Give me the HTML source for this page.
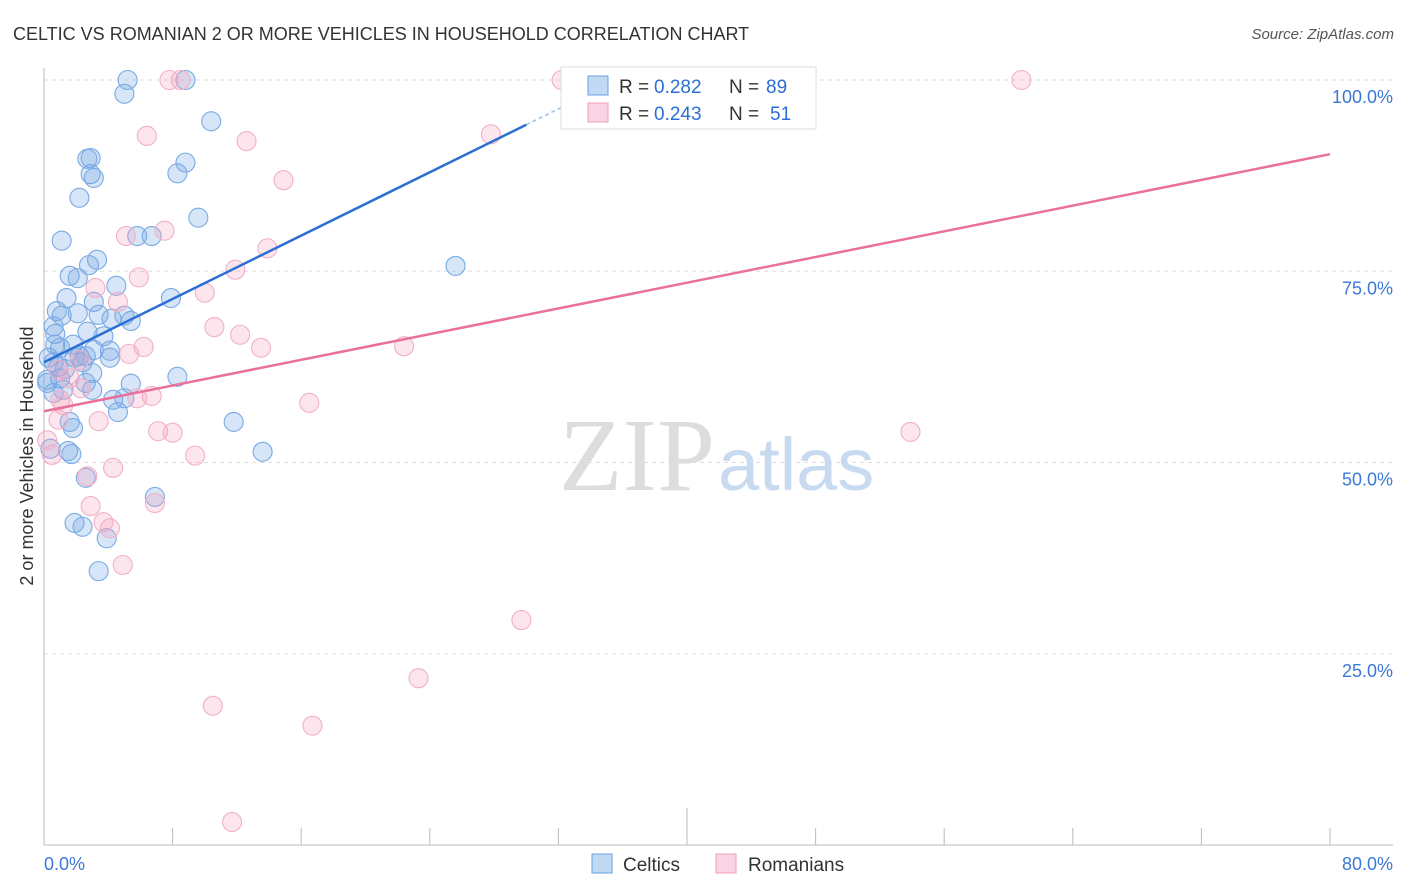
<!DOCTYPE html>
<html><head><meta charset="utf-8"><style>
body{margin:0;background:#fff;font-family:"Liberation Sans",sans-serif}
svg{display:block}
</style></head><body>
<svg width="1406" height="892" id="chart">
<text x="13" y="40" font-size="18" fill="#333">CELTIC VS ROMANIAN 2 OR MORE VEHICLES IN HOUSEHOLD CORRELATION CHART</text>
<text x="1394" y="39" font-size="15" fill="#555" font-style="italic" text-anchor="end">Source: ZipAtlas.com</text>
<text transform="translate(33,456) rotate(-90)" font-size="18" fill="#333" text-anchor="middle">2 or more Vehicles in Household</text>
<g id="grid"></g>
<text x="715" y="490" font-size="104" font-family="Liberation Serif,serif" fill="#ddd" text-anchor="end">ZIP</text>
<text x="718" y="490" font-size="74" fill="#c8daf0">atlas</text>
<g id="pts"></g>
<g id="lines"></g>
<g>
<rect x="561" y="67" width="255" height="62" fill="#fff" stroke="#ddd"/>
<rect x="588" y="76" width="20" height="19" fill="rgba(120,170,230,0.45)" stroke="#6aa0e0"/>
<rect x="588" y="103" width="20" height="19" fill="rgba(245,160,190,0.45)" stroke="#f0a0b8"/>
<text x="619" y="93" font-size="19" fill="#333">R =</text>
<text x="654" y="93" font-size="19" fill="#2b6fd6">0.282</text>
<text x="729" y="93" font-size="19" fill="#333">N =</text>
<text x="766" y="93" font-size="19" fill="#2b6fd6">89</text>
<text x="619" y="120" font-size="19" fill="#333">R =</text>
<text x="654" y="120" font-size="19" fill="#2b6fd6">0.243</text>
<text x="729" y="120" font-size="19" fill="#333">N =</text>
<text x="770" y="120" font-size="19" fill="#2b6fd6">51</text>
</g>
<g>
<rect x="592" y="854" width="20" height="19" fill="rgba(120,170,230,0.45)" stroke="#6aa0e0"/>
<text x="623" y="871" font-size="19" fill="#333">Celtics</text>
<rect x="716" y="854" width="20" height="19" fill="rgba(245,160,190,0.45)" stroke="#f0a0b8"/>
<text x="748" y="871" font-size="19" fill="#333">Romanians</text>
</g>
</svg>
<script>
const blueX=[5.2,8.8,5.0,10.4,2.7,2.9,8.8,8.3,2.9,3.1,2.2,9.6,1.1,5.8,6.7,2.8,3.3,25.6,1.6,2.1,4.5,7.9,1.4,3.1,0.8,1.1,2.1,3.4,4.2,5.0,5.4,0.6,0.7,2.7,3.7,0.7,1.8,1.0,3.1,2.6,4.1,2.2,4.1,0.3,0.6,1.3,3.0,8.3,0.2,1.0,5.4,2.6,3.0,0.6,4.3,5.0,4.6,11.8,1.6,1.8,1.5,1.7,13.6,0.4,2.6,6.9,1.9,2.4,3.9,3.4,1.9,1.2,0.2,0.9,2.4];
const blueY=[100,100,98.2,94.6,89.7,89.8,89.2,87.8,87.7,87.2,84.6,82.0,79.0,79.6,79.6,75.8,76.5,75.7,74.4,74.1,73.1,71.5,71.5,71.0,69.8,69.2,69.5,69.3,68.8,69.2,68.5,67.8,66.8,67.1,66.5,65.4,65.4,65.0,64.7,63.9,64.6,63.9,63.7,63.7,63.1,62.2,61.7,61.2,60.8,61.0,60.3,60.4,59.5,59.1,58.2,58.4,56.6,55.3,55.3,54.5,51.5,51.1,51.4,51.8,48.0,45.5,42.1,41.6,40.1,35.8,63.7,59.5,60.4,62.5,63.1];
const pinkX=[7.8,8.5,32.2,60.8,6.4,12.6,27.8,14.9,5.1,7.5,13.9,5.9,11.9,3.2,10.0,4.6,10.6,12.2,13.5,22.4,6.2,5.3,2.2,0.9,1.6,2.3,6.7,5.8,16.5,1.2,0.9,3.4,7.1,8.0,9.4,53.9,0.5,4.3,2.7,6.9,2.9,3.7,4.1,4.9,29.7,23.3,10.5,16.7,11.7,1.0,0.2];
const pinkY=[100,100,100,100,92.7,92.0,92.9,86.9,79.6,80.3,78.0,74.2,75.2,72.8,72.2,71.0,67.7,66.7,65.0,65.2,65.1,64.2,63.4,62.1,61.0,59.7,58.7,58.4,57.8,57.5,55.6,55.4,54.1,53.9,50.9,54.0,51.0,49.3,48.2,44.7,44.3,42.2,41.4,36.6,29.4,21.8,18.2,15.6,3.0,58.2,52.9];
const blueTrend=[63.1,1.035];
const pinkTrend=[56.7,0.42];
const yTicks=[25,50,75,100];
const xTickLabels=["0.0%","80.0%"];
const NS='http://www.w3.org/2000/svg';
const X=v=>44+v/80*1286, Y=v=>845-v/100*765;
function mk(t,a,p){const e=document.createElementNS(NS,t);for(const k in a)e.setAttribute(k,a[k]);p.appendChild(e);return e;}
const grid=document.getElementById('grid');
yTicks.forEach(t=>{
 const l=mk('line',{x1:44,x2:1393,y1:Y(t),y2:Y(t),stroke:'#ddd','stroke-dasharray':'4,4'},grid);
 
 
 const tx=mk('text',{x:1393,y:Y(t)+23,'font-size':18,fill:'#3b78d8','text-anchor':'end'},grid);
 tx.textContent=t.toFixed(1)+'%';
 
 
});
const ax=mk('line',{x1:44,x2:44,y1:68,y2:845,stroke:'#bbb'},grid);


const bx=mk('line',{x1:44,x2:1393,y1:845,y2:845,stroke:'#bbb'},grid);


for(let i=0;i<=10;i++){
 const tk=mk('line',{x1:X(i*8),x2:X(i*8),y1:i==5?808:828,y2:845,stroke:'#bbb'},grid);
 
 
}
[[0,'start',44],[80,'end',1393]].forEach((d,i)=>{
 const t=mk('text',{x:d[2],y:870,'font-size':18,fill:'#3b78d8','text-anchor':d[1]},grid);
 t.textContent=xTickLabels[i];
 
 
});
const pts=document.getElementById('pts');
blueX.forEach((x,i)=>{
 const c=mk('circle',{cx:X(x),cy:Y(blueY[i]),r:9.5,fill:'rgba(120,170,230,0.3)',stroke:'#7aaae3','stroke-width':1.1},pts);
 
 
});
pinkX.forEach((x,i)=>{
 const c=mk('circle',{cx:X(x),cy:Y(pinkY[i]),r:9.5,fill:'rgba(245,160,190,0.28)',stroke:'#f2b0c6','stroke-width':1.1},pts);
 
 
});
const ln=document.getElementById('lines');
const b1=mk('line',{x1:X(0),y1:Y(blueTrend[0]),x2:X(30),y2:Y(blueTrend[0]+30*blueTrend[1]),stroke:'#2b6fd6','stroke-width':2.5},ln);


const b2=mk('line',{x1:X(30),y1:Y(blueTrend[0]+30*blueTrend[1]),x2:X(34),y2:Y(blueTrend[0]+34*blueTrend[1]),stroke:'#9bbfe8','stroke-width':1.5,'stroke-dasharray':'4,3'},ln);


const p1=mk('line',{x1:X(0),y1:Y(pinkTrend[0]),x2:X(80),y2:Y(pinkTrend[0]+80*pinkTrend[1]),stroke:'#e8709a','stroke-width':2.5},ln);


</script>
</body></html>
